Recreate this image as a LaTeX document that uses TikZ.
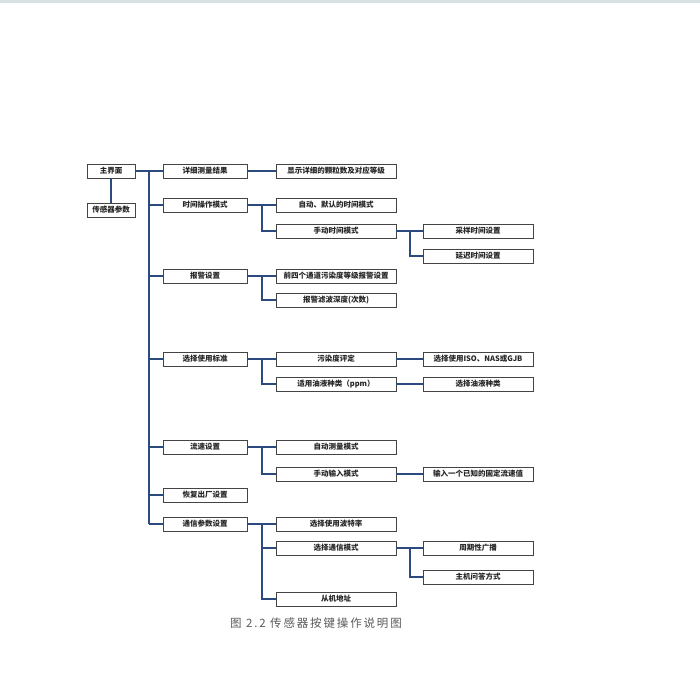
\documentclass[tikz,border=0pt]{standalone}
\usepackage{fontspec}
\newfontfamily\cjk{Noto Sans CJK SC}
\newfontfamily\cjkcap[LetterSpace=16]{Noto Sans CJK SC}
\definecolor{linkblue}{HTML}{2B4A7E}
\definecolor{boxline}{HTML}{444444}
\definecolor{topbar}{HTML}{D8E0E3}
\begin{document}
\begin{tikzpicture}[x=1pt,y=-1pt,
  box/.style={draw=boxline,line width=0.8pt,fill=white,minimum height=14pt,inner sep=0pt,
    font=\cjk\bfseries\fontsize{7.5}{8}\selectfont,text=black!85},
  b0/.style={box,minimum width=48pt},
  b1/.style={box,minimum width=84pt},
  b2/.style={box,minimum width=120pt},
  b3/.style={box,minimum width=110pt},
  link/.style={draw=linkblue,line width=2pt}]
\useasboundingbox (0,0) rectangle (700,678);
\fill[topbar] (0,0) rectangle (700,3);
% coordinates of the vertical bus lines
\coordinate (tk) at (149,0);
\coordinate (t2) at (262,0);
\coordinate (t3) at (410,0);
% level 0
\node[b0] (m0) at (111,171) {主界面};
\node[b0] (m1) at (111,210) {传感器参数};
% level 1
\node[b1] (a) at (205,171) {详细测量结果};
\node[b1] (b) at (205,205) {时间操作模式};
\node[b1] (c) at (205,276) {报警设置};
\node[b1] (d) at (205,359) {选择使用标准};
\node[b1] (e) at (205,447) {流速设置};
\node[b1] (f) at (205,495) {恢复出厂设置};
\node[b1] (g) at (205,524) {通信参数设置};
% level 2
\node[b2] (a1) at (336,171) {显示详细的颗粒数及对应等级};
\node[b2] (b1) at (336,205) {自动、默认的时间模式};
\node[b2] (b2) at (336,231) {手动时间模式};
\node[b2] (c1) at (336,276) {前四个通道污染度等级报警设置};
\node[b2] (c2) at (336,300) {报警滤波深度(次数)};
\node[b2] (d1) at (336,359) {污染度评定};
\node[b2] (d2) at (336,384) {适用油液种类（ppm）};
\node[b2] (e1) at (336,447) {自动测量模式};
\node[b2] (e2) at (336,474) {手动输入模式};
\node[b2] (g1) at (336,524) {选择使用波特率};
\node[b2] (g2) at (336,548) {选择通信模式};
\node[b2] (g3) at (336,599) {从机地址};
% level 3
\node[b3] (b21) at (478,231) {采样时间设置};
\node[b3] (b22) at (478,256) {延迟时间设置};
\node[b3] (d11) at (478,359) {选择使用ISO、NAS或GJB};
\node[b3] (d21) at (478,384) {选择油液种类};
\node[b3] (e21) at (478,474) {输入一个已知的固定流速值};
\node[b3] (g21) at (478,548) {周期性广播};
\node[b3] (g22) at (478,577) {主机问答方式};
% connectors level 0
\draw[link] (m0.south) -- (m1.north);
\draw[link] (m0.east) -- (a.west);
\draw[link] (a.west -| tk) -- (g.west -| tk);
\foreach \n in {b,c,d,e,f,g} \draw[link] (\n.west -| tk) -- (\n.west);
% level 1 -> level 2
\draw[link] (a.east) -- (a1.west);
\draw[link] (b.east) -- (b1.west);
\draw[link] (b.east -| t2) |- (b2.west);
\draw[link] (c.east) -- (c1.west);
\draw[link] (c.east -| t2) |- (c2.west);
\draw[link] (d.east) -- (d1.west);
\draw[link] (d.east -| t2) |- (d2.west);
\draw[link] (e.east) -- (e1.west);
\draw[link] (e.east -| t2) |- (e2.west);
\draw[link] (g.east) -- (g1.west);
\draw[link] (g.east -| t2) |- (g3.west);
\draw[link] (g2.west -| t2) -- (g2.west);
% level 2 -> level 3
\draw[link] (b2.east) -- (b21.west);
\draw[link] (b2.east -| t3) |- (b22.west);
\draw[link] (d1.east) -- (d11.west);
\draw[link] (d2.east) -- (d21.west);
\draw[link] (e2.east) -- (e21.west);
\draw[link] (g2.east) -- (g21.west);
\draw[link] (g2.east -| t3) |- (g22.west);
% caption
\node[font=\cjkcap\fontsize{11.5}{12}\selectfont,text=black!65,inner sep=0pt] (cap) at (316,623) {图 2.2 传感器按键操作说明图};
\end{tikzpicture}
\end{document}
